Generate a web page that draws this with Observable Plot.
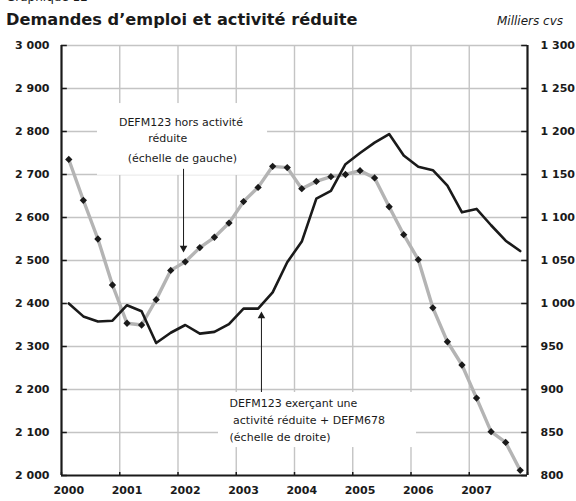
<!DOCTYPE html>
<html><head><meta charset="utf-8">
<script src="https://cdn.jsdelivr.net/npm/d3@7"></script>
<script src="https://cdn.jsdelivr.net/npm/@observablehq/plot@0.6"></script>
<style>
body{margin:0;background:#fff;width:576px;height:501px;position:relative;overflow:hidden;font-family:"DejaVu Sans",sans-serif;color:#1a1a1a}
#sup{position:absolute;left:6px;top:-9px;font-size:12px;line-height:12px;white-space:nowrap}
#title{position:absolute;left:6px;top:11px;font-size:16.2px;line-height:18px;font-weight:bold;white-space:nowrap}
#unit{position:absolute;left:497px;top:14px;font-size:12px;line-height:14px;font-style:italic;white-space:nowrap}
#chart{position:absolute;left:0;top:36px}
</style>
</head><body>
<div id="sup">Graphique 12</div>
<div id="title">Demandes d’emploi et activité réduite</div>
<div id="unit">Milliers cvs</div>
<div id="chart"></div>
<script>
const years = ["2000","2001","2002","2003","2004","2005","2006","2007"];
// Quarterly values, 2000 Q1 to 2007 Q4
const horsActivite = [2735, 2640, 2550, 2443, 2354, 2350, 2409, 2477, 2497, 2530, 2554, 2587, 2637, 2670, 2719, 2716, 2667, 2684, 2695, 2700, 2709, 2692, 2625, 2560, 2502, 2390, 2311, 2257, 2180, 2102, 2077, 2012];
const activiteReduite = [1000, 985, 979, 980, 998, 991, 954, 966, 975, 965, 967, 976, 994, 994, 1013, 1048, 1072, 1122, 1131, 1162, 1175, 1187, 1197, 1172, 1159, 1155, 1137, 1106, 1110, 1091, 1073, 1061];
const leftTicks = [2000, 2100, 2200, 2300, 2400, 2500, 2600, 2700, 2800, 2900, 3000];
const rightTicks = [800, 850, 900, 950, 1000, 1050, 1100, 1150, 1200, 1250, 1300];
const note1 = ["DEFM123 hors activité", "réduite", "(échelle de gauche)"];
const note2 = ["DEFM123 exerçant une", " activité réduite + DEFM678", "(échelle de droite)"];

const toLeft = v => 2000 + (v - 800) * 2;
const fromLeft = v => (v - 2000) / 2 + 800;
const fmt = v => String(Math.round(v)).replace(/\B(?=(\d{3})+(?!\d))/g, " ");
const nQ = horsActivite.length;
const bounds = d3.range(0, nQ + 1, 4);
const grid = "#c4c4c4";

const chart = Plot.plot({
  width: 576, height: 465,
  marginTop: 9, marginBottom: 26, marginLeft: 61, marginRight: 49,
  x: {domain: [0, nQ], axis: null},
  y: {domain: [2000, 3000], axis: null},
  style: {fontFamily: "DejaVu Sans, sans-serif", fontSize: "11px", color: "#1a1a1a", background: "white"},
  marks: [
    Plot.ruleY(leftTicks.slice(1), {stroke: grid, strokeWidth: 1.4}),
    Plot.ruleX(bounds.slice(1, -1), {stroke: grid, strokeWidth: 1.4}),
    Plot.rect([0], {x1: 2.47, x2: 14.15, y1: 2698, y2: 2865, fill: "white"}),
    Plot.rect([0], {x1: 10.78, x2: 24.38, y1: 2065, y2: 2193, fill: "white"}),
    Plot.ruleY(leftTicks, {x1: 0, x2: 0.4, stroke: "#1a1a1a", strokeWidth: 1.5}),
    Plot.ruleY(leftTicks, {x1: nQ - 0.4, x2: nQ, stroke: "#1a1a1a", strokeWidth: 1.5}),
    Plot.ruleX(bounds, {y1: 2000, y2: 2007, stroke: "#1a1a1a", strokeWidth: 1.5}),
    Plot.ruleX([0, nQ], {y1: 2000, y2: 3000, stroke: "#1a1a1a", strokeWidth: 2.2}),
    Plot.ruleY([2000], {x1: 0, x2: nQ, stroke: "#1a1a1a", strokeWidth: 2.2}),
    Plot.axisY(leftTicks, {anchor: "left", tickSize: 0, tickPadding: 12, tickFormat: fmt, fontWeight: "bold", label: null}),
    Plot.axisY(rightTicks.map(toLeft), {anchor: "right", tickSize: 0, tickPadding: 13, tickFormat: d => fmt(fromLeft(d)), fontWeight: "bold", label: null}),
    Plot.axisX(years.map((y, k) => 4 * k + 0.5), {anchor: "bottom", tickSize: 0, tickPadding: 11, tickFormat: d => years[Math.round((d - 0.5) / 4)], fontWeight: "bold", label: null}),
    Plot.line(horsActivite, {x: (d, i) => i + 0.5, y: d => d, stroke: "#b4b4b4", strokeWidth: 3.4, strokeLinejoin: "round"}),
    Plot.line(activiteReduite, {x: (d, i) => i + 0.5, y: d => toLeft(d), stroke: "#1a1a1a", strokeWidth: 2.6, strokeLinejoin: "round"}),
    Plot.dot(horsActivite, {x: (d, i) => i + 0.5, y: d => d, symbol: "diamond2", r: 3.3, fill: "#1a1a1a", stroke: null}),
    Plot.text([note1[0]], {x: 8.2, y: 2822, text: d => d, fill: "#1a1a1a"}),
    Plot.text([note1[1]], {x: 7.3, y: 2783, text: d => d, fill: "#1a1a1a"}),
    Plot.text([note1[2]], {x: 8.3, y: 2738, text: d => d, fill: "#1a1a1a"}),
    Plot.text(note2, {x: 11.54, y: (d, i) => 2167 - i * 39.5, text: d => d, textAnchor: "start", fill: "#1a1a1a"}),
    Plot.ruleX([8.38], {y1: 2712, y2: 2530, stroke: "#1a1a1a", strokeWidth: 1}),
    Plot.dot([0], {x: 8.38, y: 2529, symbol: "triangle", r: 2.8, rotate: 180, fill: "#1a1a1a", stroke: null}),
    Plot.ruleX([13.73], {y1: 2193, y2: 2371, stroke: "#1a1a1a", strokeWidth: 1}),
    Plot.dot([0], {x: 13.73, y: 2371, symbol: "triangle", r: 2.8, fill: "#1a1a1a", stroke: null})
  ]
});
document.getElementById("chart").appendChild(chart);
</script>
</body></html>
